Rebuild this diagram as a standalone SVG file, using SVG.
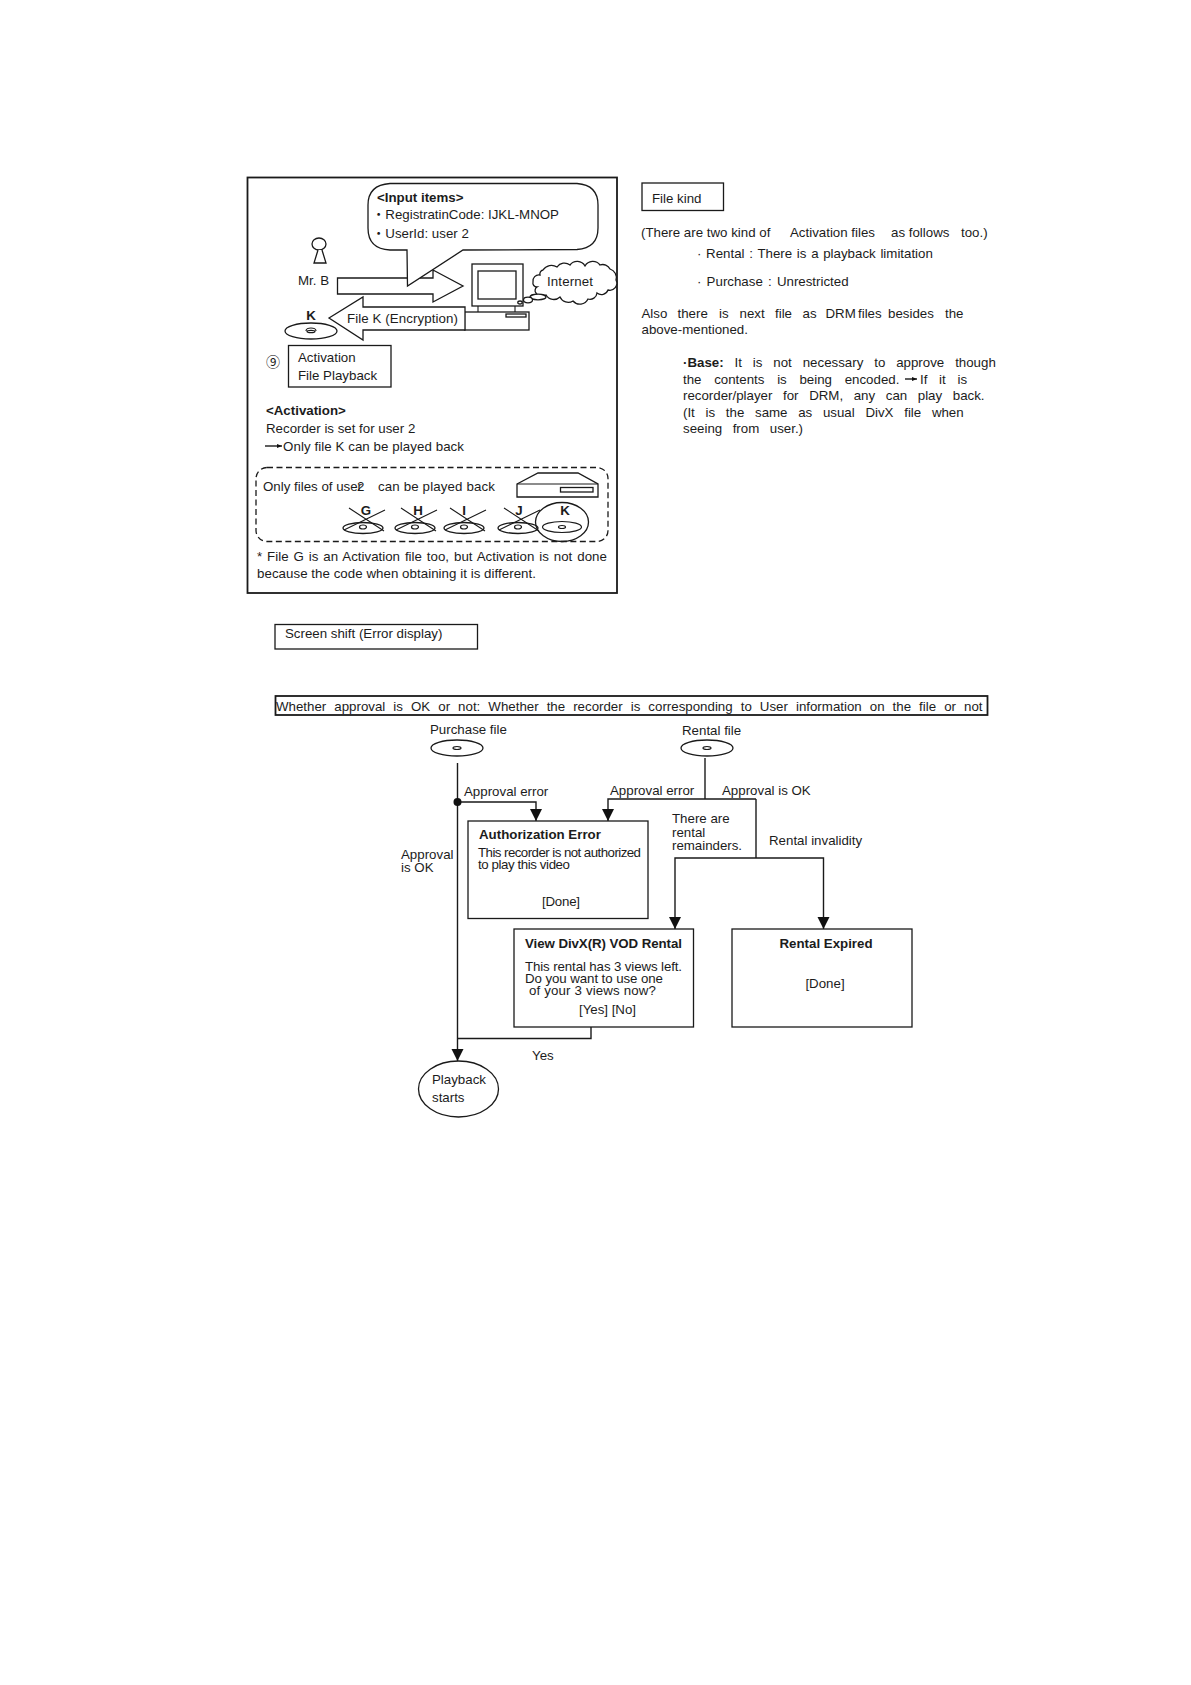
<svg xmlns="http://www.w3.org/2000/svg" width="1191" height="1685" viewBox="0 0 1191 1685">
<style>
text{font-family:"Liberation Sans",Arial,"DejaVu Sans","Noto Sans CJK JP",sans-serif;font-size:13.3px;fill:#1c1c1c}
.b{font-weight:bold}
.l{fill:none;stroke:#1a1a1a;stroke-width:1.4}
.s{fill:#fff;stroke:#1a1a1a;stroke-width:1.3}
.t{fill:none;stroke:#1a1a1a;stroke-width:1.1}
.thick{fill:#fff;stroke:#1a1a1a;stroke-width:1.8}
.hole{fill:none;stroke:#1a1a1a;stroke-width:1.2}
</style>
<defs>
<marker id="head" markerUnits="userSpaceOnUse" markerWidth="13" markerHeight="13" refX="12" refY="6.5" orient="auto"><path d="M0,0.5L12,6.5L0,12.5Z" fill="#111"/></marker>
<marker id="mini" markerUnits="userSpaceOnUse" markerWidth="6" markerHeight="6" refX="5" refY="3" orient="auto"><path d="M0,1L5,3L0,5Z" fill="#111"/></marker>
<g id="disc"><ellipse rx="26" ry="8" class="s"/><ellipse rx="4" ry="1.500" class="hole"/></g>
<g id="xdisc"><ellipse rx="20" ry="5.500" class="s" cy="1"/><ellipse rx="3.500" ry="2" class="hole" cy="0"/><path class="t" d="M-14,-19L21,4M22,-17L-19,3"/></g>
</defs>
<rect width="1191" height="1685" fill="#fff"/>

<g id="panel"><rect x="247.500" y="177.500" width="369.500" height="415.500" class="thick" fill="none"/></g>

<g id="mr-b">
<ellipse cx="319" cy="244" rx="7" ry="6" class="s"/>
<path class="s" d="M318,250L314,263H326L322,250"/>
<text x="298" y="285">Mr. B</text>
</g>
<g id="arrow-to-pc"><path class="s" d="M337.500,278H433V270L463,286L433,302V294H337.500Z"/></g>
<g id="computer">
<rect x="472" y="264" width="51" height="42" class="s"/>
<rect x="478" y="271" width="38" height="28" class="s"/>
<path class="t" d="M478,306V312M515,306V312"/>
<rect x="464.500" y="312" width="64.500" height="18" class="s"/>
<rect x="506" y="314" width="20" height="3" class="s"/>
</g>
<g id="arrow-file-k"><path class="s" d="M329,318L363,297V307H465V330H363V340Z"/>
<text x="347" y="323" textLength="111">File K (Encryption)</text></g>
<g id="callout">
<path class="s" d="M390,183.500H577Q598,185 598,205V228Q598,248 577,249.500L463,250L407.500,286L407,250H390Q368,249 368,228V205Q368,185 390,183.500Z"/>
<text x="377" y="202" class="b">&lt;Input items&gt;</text>
<text x="372" y="219">・RegistratinCode: IJKL-MNOP</text>
<text x="372" y="238">・UserId: user 2</text>
</g>
<g id="internet">
<path class="s" d="M533,282A6,6 0 0 1 540,275A4,4 0 0 1 543,270A10,10 0 0 1 557,267A9,9 0 0 1 570,265A9,9 0 0 1 585,266A9,9 0 0 1 600,265A8,8 0 0 1 610,269A9,9 0 0 1 616,280A7,7 0 0 1 608,290A7,7 0 0 1 597,293A7,7 0 0 1 588,299A9,9 0 0 1 573,301A9,9 0 0 1 560,297A9,9 0 0 1 546,295A6,6 0 0 1 536,293A4,4 0 0 1 537,287A4,4 0 0 1 533,282Z"/>
<ellipse cx="538" cy="297" rx="8" ry="2.800" class="s"/>
<ellipse cx="528" cy="300" rx="4.500" ry="2.800" class="s"/>
<ellipse cx="520" cy="302.500" rx="2.200" ry="1.500" class="s"/>
<text x="547" y="286" textLength="46">Internet</text>
</g>
<g id="disc-k">
<text x="311" y="320" text-anchor="middle" class="b">K</text>
<ellipse cx="311" cy="331" rx="26" ry="8" class="s"/>
<path class="hole" d="M306,331A5,3 0 0 1 316,331"/>
<ellipse cx="311" cy="331.500" rx="4" ry="1.200" class="hole"/>
</g>
<g id="step-9">
<text x="266" y="367" style="font-family:'Noto Sans CJK JP',sans-serif;font-size:14px">⑨</text>
<rect x="288.500" y="345.500" width="102.500" height="41.500" class="s"/>
<text x="298" y="362">Activation</text>
<text x="298" y="380">File Playback</text>
</g>
<g id="activation-note">
<text x="266" y="415" class="b">&lt;Activation&gt;</text>
<text x="266" y="433">Recorder is set for user 2</text>
<path class="l" d="M265,446H282" marker-end="url(#mini)"/>
<text x="283" y="451" textLength="181">Only file K can be played back</text>
</g>
<g id="playback-group">
<rect x="256" y="467.500" width="352" height="74" rx="11" fill="none" stroke="#1a1a1a" stroke-width="1.300" stroke-dasharray="6 3.500"/>
<text x="263" y="491">Only files of user</text><text x="357" y="491">2</text><text x="378" y="491" textLength="117">can be played back</text>
<path class="s" d="M517,484L538,473H578L598,484V497H517Z"/>
<path class="t" d="M517,484H598"/>
<rect x="560.500" y="487.500" width="32.500" height="4.500" class="s"/>
<text x="366" y="515" class="b" text-anchor="middle">G</text>
<text x="418" y="515" class="b" text-anchor="middle">H</text>
<text x="464" y="515" class="b" text-anchor="middle">I</text>
<text x="519" y="515" class="b" text-anchor="middle">J</text>
<use href="#xdisc" x="363" y="527"/>
<use href="#xdisc" x="415" y="527"/>
<use href="#xdisc" x="464" y="527"/>
<use href="#xdisc" x="518" y="527"/>
<ellipse cx="562" cy="522" rx="26.500" ry="19.500" fill="none" stroke="#1a1a1a" stroke-width="1.300"/>
<text x="565" y="515" class="b" text-anchor="middle">K</text>
<ellipse cx="562" cy="527" rx="19.500" ry="5.500" fill="none" stroke="#1a1a1a" stroke-width="1.200"/>
<ellipse cx="562" cy="527" rx="3.500" ry="1.500" class="hole"/>
</g>
<g id="footnote">
<text x="257" y="561" style="word-spacing:1.250px">* File G is an Activation file too, but Activation is not done</text>
<text x="257" y="578" textLength="279">because the code when obtaining it is different.</text>
</g>

<g id="file-kind"><rect x="642" y="183" width="81.500" height="27.500" class="s"/><text x="652" y="203">File kind</text></g>
<g id="file-kind-text">
<text x="641" y="237">(There are two kind of</text><text x="790" y="237">Activation files</text><text x="891" y="237">as follows</text><text x="961" y="237">too.)</text>
<text x="697" y="258" style="word-spacing:1px">· Rental :  There is a playback limitation</text>
<text x="697" y="286" style="word-spacing:1.500px">· Purchase :  Unrestricted</text>
<text y="318"><tspan x="641.500">Also</tspan><tspan x="677.500">there</tspan><tspan x="719">is</tspan><tspan x="739.500">next</tspan><tspan x="775">file</tspan><tspan x="802.500">as</tspan><tspan x="825.500">DRM</tspan><tspan x="858">files</tspan><tspan x="888">besides</tspan><tspan x="945">the</tspan></text>
<text x="641.500" y="334">above-mentioned.</text>
<text x="683" y="367" style="word-spacing:7.200px"><tspan class="b">·Base:</tspan> It is not necessary to approve though</text>
<text x="683" y="384" style="word-spacing:9px">the contents is being encoded.</text>
<path class="l" d="M905,379H917" marker-end="url(#mini)" stroke-width="1"/>
<text x="920" y="384" style="word-spacing:8px">If it is</text>
<text x="683" y="400" style="word-spacing:6.900px">recorder/player for DRM, any can play back.</text>
<text x="683" y="417" style="word-spacing:7px">(It is the same as usual DivX file when</text>
<text x="683" y="433" style="word-spacing:6.800px">seeing from user.)</text>
</g>

<g id="screen-shift"><rect x="275" y="624.500" width="202.500" height="24.500" class="s"/><text x="285" y="638">Screen shift (Error display)</text></g>
<g id="whether"><rect x="275.500" y="696" width="712" height="19" class="thick"/><text x="276" y="711" style="word-spacing:4.350px">Whether approval is OK or not: Whether the recorder is corresponding to User information on the file or not</text></g>

<g id="connectors">
<path class="l" d="M457.500,763V1061" marker-end="url(#head)"/>
<path class="l" d="M457.500,802H536V821" marker-end="url(#head)"/>
<path class="l" d="M705,758V799"/>
<path class="l" d="M756,799H608V821" marker-end="url(#head)"/>
<path class="l" d="M756,799V858"/>
<path class="l" d="M822,858H675V929" marker-end="url(#head)"/>
<path class="l" d="M822,858H823.500V929" marker-end="url(#head)"/>
<path class="l" d="M591,1027V1038.500H457.500"/>
<circle cx="457.500" cy="802" r="4" fill="#111"/>
</g>
<g id="labels">
<text x="464" y="796">Approval error</text>
<text x="610" y="795">Approval error</text>
<text x="722" y="795">Approval is OK</text>
<text x="672" y="823">There are</text>
<text x="672" y="837">rental</text>
<text x="672" y="850" textLength="70">remainders.</text>
<text x="769" y="845">Rental invalidity</text>
<text x="401" y="859">Approval</text>
<text x="401" y="872">is OK</text>
<text x="532" y="1060">Yes</text>
</g>
<g id="purchase-file"><text x="430" y="734">Purchase file</text><use href="#disc" x="457" y="748"/></g>
<g id="rental-file"><text x="682" y="735">Rental file</text><use href="#disc" x="707" y="748"/></g>
<g id="authorization-error">
<rect x="468" y="821" width="180" height="97.500" class="s"/>
<text x="479" y="839" class="b">Authorization Error</text>
<text x="478" y="857" textLength="163">This recorder is not authorized</text>
<text x="478" y="869" textLength="92">to play this video</text>
<text x="542" y="906" textLength="38">[Done]</text>
</g>
<g id="view-rental">
<rect x="514" y="929" width="179.500" height="98" class="s"/>
<text x="525" y="947.500" class="b" textLength="157">View DivX(R) VOD Rental</text>
<text x="525" y="971" textLength="157">This rental has 3 views left.</text>
<text x="525" y="983" textLength="138">Do you want to use one</text>
<text x="529" y="995" textLength="127">of your 3 views now?</text>
<text x="579" y="1014" textLength="57">[Yes] [No]</text>
</g>
<g id="rental-expired">
<rect x="732" y="929" width="180" height="98" class="s"/>
<text x="826" y="947.500" class="b" text-anchor="middle">Rental Expired</text>
<text x="825" y="988" text-anchor="middle">[Done]</text>
</g>
<g id="playback-starts">
<ellipse cx="458.500" cy="1089" rx="40" ry="28" class="s"/>
<text x="432" y="1084">Playback</text>
<text x="432" y="1102">starts</text>
</g>
</svg>
